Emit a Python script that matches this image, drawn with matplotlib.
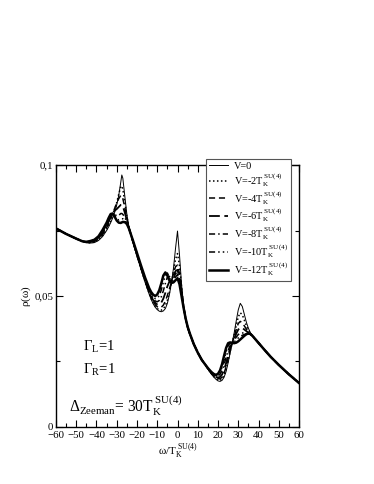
import numpy as np
import matplotlib
matplotlib.use("Agg")
import matplotlib.pyplot as plt
from matplotlib.ticker import MultipleLocator, FixedLocator, FixedFormatter

plt.rcParams['font.family'] = ['Liberation Serif', 'DejaVu Serif']
plt.rcParams['mathtext.fontset'] = 'custom'
plt.rcParams['mathtext.rm'] = 'Liberation Serif'
plt.rcParams['mathtext.it'] = 'Liberation Serif:italic'
plt.rcParams['mathtext.bf'] = 'Liberation Serif:bold'

# ---------------- data ----------------
x_left = [-60, -55, -50, -47]
y_left = [0.0758, 0.0737, 0.0719, 0.0709]

x_peak1 = [-45, -43, -41, -39, -37, -35, -34, -33, -32, -31, -30, -29, -28, -27.5, -27, -26, -25, -24]
x_mid = [-22, -20, -18, -16, -14, -13, -12, -11, -10, -9, -8, -7, -6, -5, -4, -3, -2, -1, 0, 1, 2, 3, 4, 5, 6]
x_common = [8, 10, 12, 14]
y_common = [0.0317, 0.0284, 0.0256, 0.0235]
x_right = [15, 16, 17, 18, 19, 20, 21, 22, 23, 24, 25, 26, 27, 28, 29, 30, 31, 32, 33, 34, 35, 36, 37, 38]
x_tail = [40, 43, 46, 50, 55, 60]
y_tail = [0.0321, 0.0294, 0.0268, 0.0237, 0.0201, 0.0168]

peak1_V0 = [.0704, .0702, .0704, .0712, .0727, .0750, .0764, .0780, .0798, .0820, .0848, .0885, .0935, .0962, .0950, .0880, .0812, .0765]
peak1_V2 = [.0704, .0703, .0706, .0715, .0731, .0755, .0770, .0787, .0806, .0829, .0857, .0889, .0918, .0920, .0908, .0858, .0803, .0763]
peak1_V4 = [.0705, .0705, .0708, .0718, .0735, .0761, .0777, .0795, .0815, .0835, .0855, .0872, .0884, .0882, .0872, .0838, .0795, .0762]
peak1_V6 = [.0705, .0706, .0711, .0722, .0740, .0767, .0784, .0802, .0818, .0826, .0832, .0840, .0848, .0848, .0843, .0818, .0788, .0760]
peak1_V8 = [.0706, .0707, .0713, .0725, .0744, .0772, .0790, .0808, .0816, .0812, .0806, .0808, .0815, .0815, .0812, .0800, .0782, .0760]
peak1_V10 = [.0706, .0708, .0715, .0727, .0748, .0776, .0794, .0811, .0815, .0806, .0795, .0790, .0794, .0795, .0795, .0790, .0778, .0759]
peak1_V12 = [.0707, .0710, .0715, .0728, .0752, .0780, .0798, .0813, .0815, .0802, .0788, .0780, .0779, .0781, .0783, .0782, .0775, .0758]

mid_V0 = [.0705, .0652, .0601, .0552, .0507, .0487, .0470, .0457, .0448, .0442, .0440, .0443, .0452, .0472, .0505, .0550, .0605, .0680, .0748, .0655, .0545, .0465, .0412, .0378, .0355]
mid_V2 = [.0706, .0654, .0603, .0555, .0510, .0490, .0474, .0461, .0452, .0447, .0446, .0451, .0463, .0484, .0514, .0550, .0595, .0640, .0662, .0615, .0535, .0463, .0412, .0379, .0356]
mid_V4 = [.0707, .0656, .0606, .0558, .0514, .0495, .0479, .0467, .0459, .0455, .0457, .0465, .0480, .0502, .0527, .0552, .0585, .0612, .0618, .0585, .0525, .0461, .0413, .0380, .0357]
mid_V6 = [.0708, .0658, .0608, .0561, .0518, .0500, .0484, .0474, .0468, .0468, .0475, .0490, .0512, .0537, .0555, .0558, .0575, .0595, .0600, .0570, .0515, .0460, .0414, .0381, .0358]
mid_V8 = [.0709, .0660, .0611, .0564, .0522, .0505, .0490, .0481, .0478, .0483, .0497, .0520, .0548, .0572, .0575, .0558, .0565, .0585, .0592, .0560, .0510, .0459, .0415, .0382, .0358]
mid_V10 = [.0711, .0662, .0613, .0567, .0526, .0510, .0497, .0490, .0491, .0502, .0523, .0553, .0580, .0588, .0570, .0555, .0558, .0572, .0582, .0552, .0505, .0457, .0416, .0383, .0359]
mid_V12 = [.0712, .0664, .0616, .0570, .0530, .0515, .0505, .0500, .0506, .0522, .0548, .0578, .0590, .0578, .0560, .0550, .0552, .0560, .0568, .0545, .0500, .0455, .0415, .0383, .0359]

right_V0 = [.0222, .0210, .0199, .0190, .0182, .0176, .0174, .0178, .0190, .0212, .0245, .0283, .0320, .0360, .0405, .0447, .0472, .0460, .0430, .0400, .0377, .0360, .0348, .0339]
right_V2 = [.0222, .0211, .0201, .0192, .0185, .0180, .0178, .0183, .0196, .0220, .0253, .0288, .0320, .0352, .0388, .0420, .0436, .0428, .0408, .0387, .0370, .0358, .0348, .0339]
right_V4 = [.0223, .0212, .0202, .0194, .0188, .0184, .0184, .0190, .0205, .0230, .0262, .0293, .0320, .0345, .0372, .0395, .0403, .0398, .0386, .0374, .0364, .0356, .0348, .0339]
right_V6 = [.0223, .0213, .0204, .0196, .0191, .0189, .0191, .0200, .0218, .0244, .0274, .0300, .0320, .0338, .0356, .0372, .0379, .0378, .0372, .0366, .0360, .0355, .0347, .0339]
right_V8 = [.0224, .0214, .0205, .0198, .0194, .0195, .0201, .0215, .0238, .0266, .0292, .0311, .0321, .0331, .0343, .0353, .0358, .0359, .0358, .0357, .0356, .0353, .0347, .0339]
right_V10 = [.0224, .0215, .0207, .0200, .0197, .0199, .0208, .0228, .0256, .0287, .0310, .0320, .0321, .0325, .0332, .0340, .0346, .0350, .0353, .0356, .0357, .0355, .0347, .0339]
right_V12 = [.0225, .0216, .0208, .0202, .0199, .0203, .0216, .0240, .0272, .0302, .0320, .0323, .0321, .0320, .0322, .0327, .0334, .0341, .0348, .0354, .0357, .0355, .0348, .0339]

labels = [r'V=0',
          r'V=-2$\mathrm{T_K^{\ SU(4)}}$',
          r'V=-4$\mathrm{T_K^{\ SU(4)}}$',
          r'V=-6$\mathrm{T_K^{\ SU(4)}}$',
          r'V=-8$\mathrm{T_K^{\ SU(4)}}$',
          r'V=-10$\mathrm{T_K^{\ SU(4)}}$',
          r'V=-12$\mathrm{T_K^{\ SU(4)}}$']

peak1_all = [peak1_V0, peak1_V2, peak1_V4, peak1_V6, peak1_V8, peak1_V10, peak1_V12]
mid_all = [mid_V0, mid_V2, mid_V4, mid_V6, mid_V8, mid_V10, mid_V12]
right_all = [right_V0, right_V2, right_V4, right_V6, right_V8, right_V10, right_V12]

styles = [dict(ls='-', lw=0.7),
          dict(ls=(0, (1, 1.6)), lw=1.1),
          dict(ls=(0, (4, 2.5)), lw=1.1),
          dict(ls=(0, (6, 2.5)), lw=1.3),
          dict(ls=(0, (4, 2, 1, 2)), lw=1.1),
          dict(ls=(0, (4, 2, 1, 2, 1, 2)), lw=1.1),
          dict(ls='-', lw=1.8)]

# ---------------- figure ----------------
fig = plt.figure(figsize=(3.74, 4.84), dpi=100)
ax = fig.add_axes([0.1497, 0.1178, 0.6498, 0.5412])

x_full = np.array(x_left + x_peak1 + x_mid + x_common + x_right + x_tail)
for lab, p1, md, rt, st in zip(labels, peak1_all, mid_all, right_all, styles):
    y_full = np.array(y_left + p1 + md + y_common + rt + y_tail)
    ax.plot(x_full, y_full, color='black', label=lab, **st)

ax.set_xlim(-60, 60)
ax.set_ylim(0, 0.1)
ax.xaxis.set_major_locator(MultipleLocator(10))
ax.xaxis.set_minor_locator(MultipleLocator(5))
ax.yaxis.set_major_locator(FixedLocator([0, 0.05, 0.1]))
ax.yaxis.set_major_formatter(FixedFormatter(['0', '0,05', '0,1']))
ax.yaxis.set_minor_locator(MultipleLocator(0.025))
ax.tick_params(which='both', direction='in', top=True, right=True, labelsize=7.8, width=0.8)
ax.tick_params(axis='x', pad=3)
ax.tick_params(axis='y', pad=2)
ax.tick_params(which='major', length=5)
ax.tick_params(which='minor', length=3)
for s in ax.spines.values():
    s.set_linewidth(1.0)

ax.set_xlabel(r'$\mathrm{\omega/T_K^{\ SU(4)}}$', fontsize=8, labelpad=1)
ax.set_ylabel(r'$\mathrm{\rho(\omega)}$', fontsize=8, labelpad=1)

ax.text(-46.5, 0.0305, r'$\mathrm{\Gamma_L}$=1', fontsize=10.5, va='center', ha='left')
ax.text(-46.5, 0.0218, r'$\mathrm{\Gamma_R}$=1', fontsize=10.5, va='center', ha='left')
ax.text(-53.8, 0.0080, r'$\mathrm{\Delta_{Zeeman}}$= 30$\mathrm{T_K^{\ SU(4)}}$', fontsize=11.2, va='center', ha='left')

leg = fig.legend(loc='upper left', bbox_to_anchor=(0.551, 0.6715), fontsize=7.4,
                 frameon=True, fancybox=False, edgecolor='#555555', framealpha=1,
                 handlelength=1.9, handletextpad=0.6, labelspacing=0.0,
                 borderpad=0.25, borderaxespad=0)
leg.get_frame().set_linewidth(0.8)

fig.savefig('out.png', dpi=100)
